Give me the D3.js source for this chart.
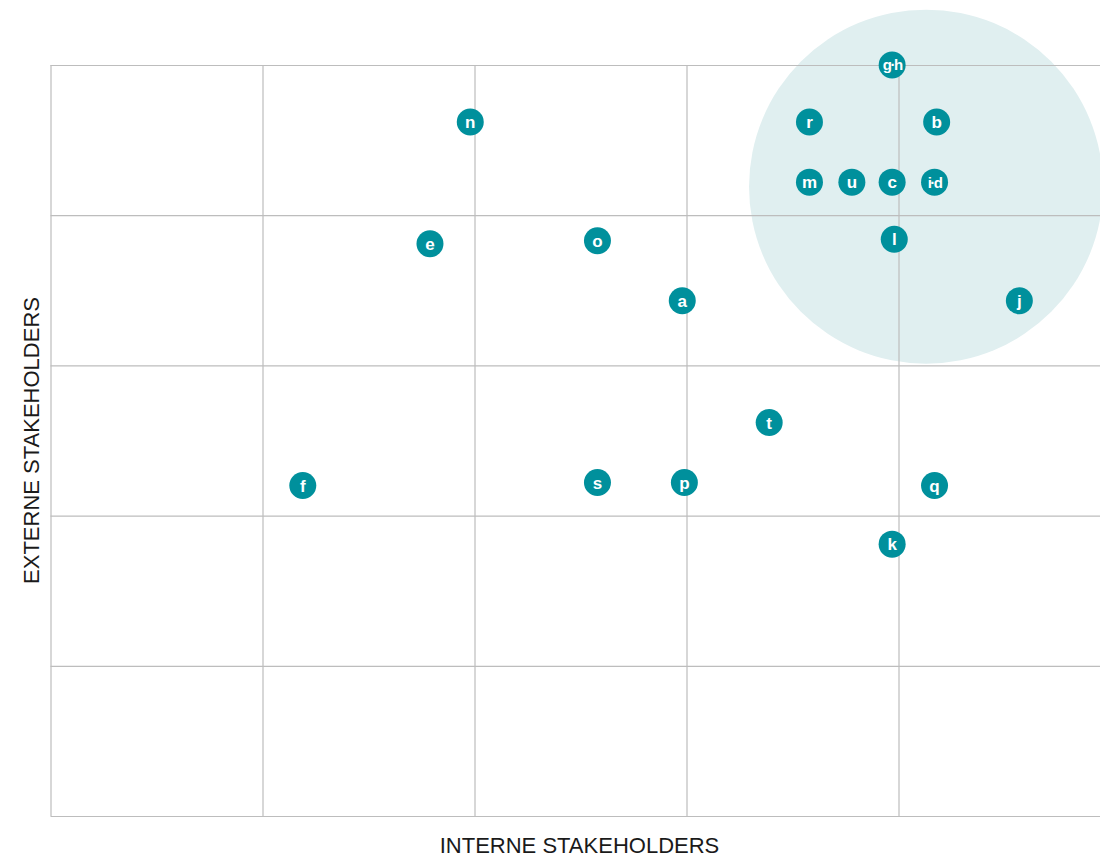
<!DOCTYPE html>
<html>
<head>
<meta charset="utf-8">
<script src="https://cdn.jsdelivr.net/npm/d3@7"></script>
<style>
  body { margin: 0; background: #fff; }
  svg { display: block; font-family: "Liberation Sans", Arial, sans-serif; }
  .grid line { stroke: #bdbdbd; stroke-width: 1.2; }
  .grid .domain { display: none; }
</style>
</head>
<body>
<div id="chart"></div>
<script>
// stakeholder labels and their scores (interne, externe)
var labels = ["g\u00b7h", "n", "r", "b", "m", "u", "c", "i\u00b7d", "e", "o", "l", "a", "j", "t", "f", "s", "p", "q", "k"];
var interne = [3.97, 1.98, 3.58, 4.18, 3.58, 3.78, 3.97, 4.17, 1.79, 2.58, 3.98, 2.98, 4.57, 3.39, 1.19, 2.58, 2.99, 4.17, 3.97];
var externe = [5.0, 4.62, 4.62, 4.62, 4.22, 4.22, 4.22, 4.22, 3.81, 3.83, 3.84, 3.43, 3.43, 2.62, 2.20, 2.22, 2.22, 2.20, 1.81];

var gridTicks = [0, 1, 2, 3, 4, 5];
// highlighted zone: centre and radius in score units (x direction)
var zoneCenter = [4.13, 4.19];
var zoneRadius = 0.835;

var margin = {top: 65, right: -10.5, bottom: 41, left: 50.5},
    totalWidth = 1100, totalHeight = 857,
    width = totalWidth - margin.left - margin.right,
    height = totalHeight - margin.top - margin.bottom;

var x = d3.scaleLinear().domain([0, 5]).range([0, width]);
var y = d3.scaleLinear().domain([0, 5]).range([height, 0]);

var svg = d3.select("#chart").append("svg")
    .attr("width", totalWidth)
    .attr("height", totalHeight)
    .append("g")
    .attr("transform", "translate(" + margin.left + "," + margin.top + ")");

// highlight zone behind the grid
svg.append("circle")
    .attr("cx", x(zoneCenter[0]))
    .attr("cy", y(zoneCenter[1]))
    .attr("r", x(zoneRadius) - x(0))
    .style("fill", "#e0eff0");

svg.append("g")
    .attr("class", "grid")
    .attr("transform", "translate(0," + height + ")")
    .call(d3.axisBottom(x).tickValues(gridTicks).tickSize(-height).tickFormat(""));

svg.append("g")
    .attr("class", "grid")
    .call(d3.axisLeft(y).tickValues(gridTicks).tickSize(-width).tickFormat(""));

// axis titles
svg.append("text")
    .attr("x", 529)
    .attr("y", height + 37)
    .style("text-anchor", "middle")
    .style("font-size", "22px")
    .style("fill", "#1a1a1a")
    .text("INTERNE STAKEHOLDERS");

svg.append("text")
    .attr("transform", "rotate(-90)")
    .attr("x", -height / 2)
    .attr("y", -12)
    .style("text-anchor", "middle")
    .style("font-size", "22px")
    .style("fill", "#1a1a1a")
    .text("EXTERNE STAKEHOLDERS");

var points = labels.map(function(name, i) {
    return {name: name, ix: interne[i], ex: externe[i]};
});

var dot = svg.selectAll(".dot")
    .data(points)
    .enter().append("g")
    .attr("class", "dot")
    .attr("transform", function(d) {
        return "translate(" + x(d.ix) + "," + y(d.ex) + ")";
    });

dot.append("circle")
    .attr("r", 13.5)
    .style("fill", "#00909c");

dot.append("text")
    .attr("dy", "0.36em")
    .style("text-anchor", "middle")
    .style("fill", "#fff")
    .style("font-weight", "bold")
    .style("font-size", function(d) { return d.name.length > 1 ? "15px" : "17px"; })
    .style("letter-spacing", function(d) { return d.name.length > 1 ? "-1.5px" : "0"; })
    .text(function(d) { return d.name; });
</script>
</body>
</html>
